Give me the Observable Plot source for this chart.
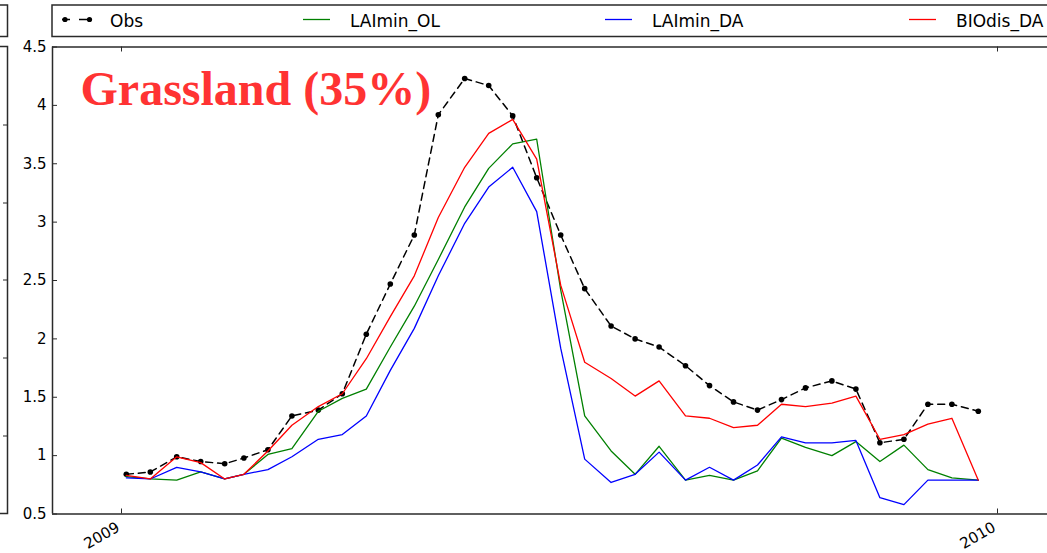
<!DOCTYPE html>
<html>
<head>
<meta charset="utf-8">
<script src="https://cdn.jsdelivr.net/npm/d3@7"></script>
<script src="https://cdn.jsdelivr.net/npm/@observablehq/plot@0.6"></script>
<style>
  html, body { margin: 0; padding: 0; background: #fff; }
  #chart { width: 1047px; height: 553px; overflow: hidden; }
</style>
</head>
<body>
<div id="chart"></div>
<script>
// ---- data ----
const dates = [
  "2009-01-03","2009-01-13","2009-01-24","2009-02-03","2009-02-13","2009-02-21",
  "2009-03-03","2009-03-13","2009-03-24","2009-04-03","2009-04-13","2009-04-23",
  "2009-05-03","2009-05-13","2009-05-24","2009-06-03","2009-06-13","2009-06-23",
  "2009-07-03","2009-07-13","2009-07-24","2009-08-03","2009-08-13","2009-08-24",
  "2009-09-03","2009-09-13","2009-09-23","2009-10-03","2009-10-13","2009-10-24",
  "2009-11-03","2009-11-13","2009-11-23","2009-12-03","2009-12-13","2009-12-24"
];
const obs = [0.84,0.86,0.99,0.95,0.93,0.98,1.05,1.34,1.39,1.53,2.04,2.47,
             2.89,3.92,4.23,4.17,3.91,3.38,2.89,2.43,2.11,2.00,1.93,1.77,
             1.60,1.46,1.39,1.48,1.58,1.64,1.57,1.11,1.14,1.44,1.44,1.38];
const laiminOL = [0.82,0.80,0.79,0.86,0.80,0.84,1.01,1.06,1.38,1.49,1.57,1.93,
                  2.28,2.68,3.13,3.46,3.67,3.71,2.42,1.34,1.04,0.84,1.08,0.79,
                  0.83,0.79,0.87,1.15,1.07,1.00,1.12,0.95,1.09,0.88,0.81,0.79];
const laiminDA = [0.81,0.80,0.90,0.86,0.80,0.84,0.88,0.99,1.14,1.18,1.34,1.73,
                  2.09,2.54,2.99,3.30,3.47,3.09,1.92,0.97,0.77,0.84,1.03,0.79,
                  0.90,0.79,0.92,1.16,1.11,1.11,1.13,0.64,0.58,0.79,0.79,0.79];
const biodisDA = [0.83,0.80,0.99,0.94,0.80,0.84,1.04,1.26,1.42,1.53,1.83,2.19,
                  2.54,3.04,3.47,3.76,3.88,3.54,2.46,1.80,1.66,1.51,1.64,1.34,
                  1.32,1.24,1.26,1.44,1.42,1.45,1.51,1.14,1.18,1.27,1.32,0.79];
const seriesNames = ["Obs","LAImin_OL","LAImin_DA","BIOdis_DA"];
const seriesColors = ["#000000","#008000","#0000ff","#ff0000"];
const yTicks = [0.5,1,1.5,2,2.5,3,3.5,4,4.5];
const xTickDates = ["2009-01-01","2010-01-01"];
const xTickLabels = ["2009","2010"];
const xDomain = ["2008-12-03T06:00:00Z","2010-01-21T20:00:00Z"];
const yDomain = [0.5,4.5];
const titleText = "Grassland (35%)";

// ---- build table ----
const parse = s => new Date(s);
const rows = [];
[obs, laiminOL, laiminDA, biodisDA].forEach((arr, k) => {
  arr.forEach((v, i) => rows.push({date: parse(dates[i]), value: v, series: seriesNames[k]}));
});
const obsRows = rows.filter(d => d.series === "Obs");
const lineOf = name => rows.filter(d => d.series === name);
const xTicks = xTickDates.map(parse);

const W = 1047, H = 553, ML = 52, MR = 0, MT = 46.5, MB = 39.5;
const plotW = W - ML - MR, plotH = H - MT - MB;
const axisColor = "#2a2a2a";

const chart = Plot.plot({
  width: W, height: H,
  marginLeft: ML, marginRight: MR, marginTop: MT, marginBottom: MB,
  style: {background: "#fff", fontFamily: "DejaVu Sans, sans-serif", fontSize: "15px", color: "#000", overflow: "visible"},
  x: {type: "utc", domain: xDomain.map(parse), axis: null},
  y: {domain: yDomain, axis: null},
  marks: [
    // series
    Plot.line(obsRows, {x: "date", y: "value", stroke: seriesColors[0], strokeWidth: 1.5, strokeDasharray: "7,5"}),
    Plot.dot(obsRows, {x: "date", y: "value", r: 2.8, fill: seriesColors[0], stroke: "none"}),
    Plot.line(lineOf("LAImin_OL"), {x: "date", y: "value", stroke: seriesColors[1], strokeWidth: 1.3}),
    Plot.line(lineOf("LAImin_DA"), {x: "date", y: "value", stroke: seriesColors[2], strokeWidth: 1.3}),
    Plot.line(lineOf("BIOdis_DA"), {x: "date", y: "value", stroke: seriesColors[3], strokeWidth: 1.3}),
    // frame lines
    Plot.ruleY([yDomain[0], yDomain[1]], {y: d => d, stroke: axisColor, strokeWidth: 1.5}),
    Plot.ruleX([parse(xDomain[0])], {x: d => d, stroke: axisColor, strokeWidth: 1.5}),
    // inward ticks
    Plot.tickY(yTicks, {y: d => d, insetRight: plotW - 5, stroke: axisColor, strokeWidth: 1}),
    Plot.tickX(xTicks, {x: d => d, insetTop: plotH - 5, stroke: axisColor, strokeWidth: 1}),
    Plot.tickX(xTicks, {x: d => d, insetBottom: plotH - 5, stroke: axisColor, strokeWidth: 1}),
    // y tick labels
    Plot.axisY(yTicks, {tickSize: 0, tickPadding: 6, tickFormat: d => String(d), label: null, fontSize: 15, fill: "#000"}),
    // x tick labels (rotated)
    Plot.text(xTicks, {x: d => d, frameAnchor: "bottom", text: (d, i) => xTickLabels[i],
      rotate: -30, textAnchor: "end", lineAnchor: "top", dx: -6, dy: 7, fontSize: 15, fill: "#000"}),
    // title
    Plot.text([titleText], {text: d => d, frameAnchor: "top-left", dx: 28, dy: 24, lineAnchor: "top", textAnchor: "start",
      fontFamily: "Liberation Serif, Times New Roman, serif", fontWeight: "bold", fontSize: 48, fill: "#ff3333"})
  ]
});

document.getElementById("chart").appendChild(chart);

// ---- legend + neighbouring panel edge (decoration drawn into the same SVG) ----
const svg = d3.select(chart);
const g = svg.append("g").attr("font-family", "DejaVu Sans, sans-serif").attr("font-size", 17)
  .attr("text-anchor", "start");
// legend box
g.append("rect").attr("x", ML).attr("y", 5).attr("width", W + 20 - ML).attr("height", 31.5)
  .attr("fill", "#fff").attr("stroke", axisColor).attr("stroke-width", 1.5);
const legendX = [62, 303, 605, 909];
const legendTextX = [110, 350, 652, 956];
seriesNames.forEach((name, k) => {
  const x0 = legendX[k];
  if (k === 0) {
    g.append("line").attr("x1", 62).attr("x2", 92).attr("y1", 19.5).attr("y2", 19.5)
      .attr("stroke", "#000").attr("stroke-width", 1.5).attr("stroke-dasharray", "8,9,11");
    g.append("circle").attr("cx", 65).attr("cy", 19.5).attr("r", 2.6).attr("fill", "#000");
    g.append("circle").attr("cx", 89.5).attr("cy", 19.5).attr("r", 2.6).attr("fill", "#000");
  } else {
    g.append("line").attr("x1", x0).attr("x2", x0 + 27).attr("y1", 19.5).attr("y2", 19.5)
      .attr("stroke", seriesColors[k]).attr("stroke-width", 1.3);
  }
  g.append("text").attr("x", legendTextX[k]).attr("y", 26.5).attr("text-anchor", "start")
    .attr("fill", "#000").text(name);
});
// neighbouring panel's right edge (cropped in the reference)
g.append("rect").attr("x", -20).attr("y", 5).attr("width", 27.5).attr("height", 31.5)
  .attr("fill", "none").attr("stroke", axisColor).attr("stroke-width", 1.5);
g.append("rect").attr("x", -20).attr("y", MT).attr("width", 27.5).attr("height", plotH)
  .attr("fill", "none").attr("stroke", axisColor).attr("stroke-width", 1.5);
[125, 203, 280, 358, 436].forEach(y => {
  g.append("line").attr("x1", 3).attr("x2", 7.5).attr("y1", y).attr("y2", y).attr("stroke", axisColor);
});
</script>
</body>
</html>
